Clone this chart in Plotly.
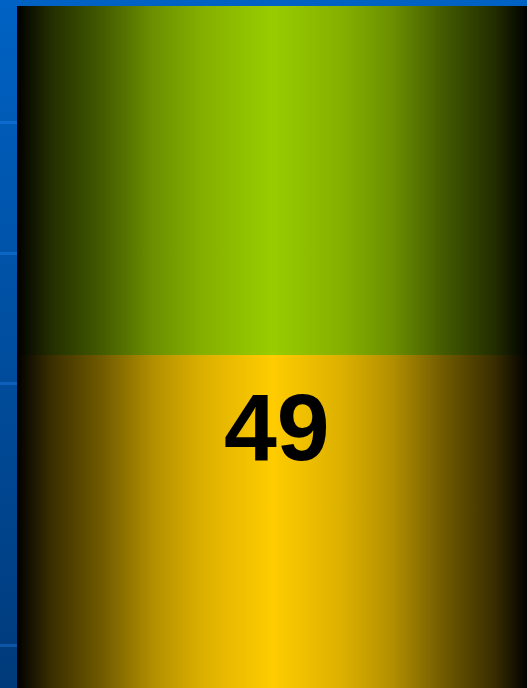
import plotly.graph_objects as go

# ---- data ----
segment_names = ["Yellow", "Green"]
segment_values = [49, 26.7]
segment_colors = ["#FFCC00", "#99CC00"]
segment_labels = ["49", ""]
grid_values = [26.8, 46.8, 56.8, 66.8]

bar_width = 0.8
x_range = [-0.42661, 0.39844]
y_range = [23.52, 76.16]

# shading profile (fraction of full colour) across the bar, left -> centre
shade_pos = [0.0, 0.065, 0.165, 0.265, 0.36, 0.46, 0.5]
shade_amt = [0.0, 0.22, 0.44, 0.70, 0.86, 0.96, 1.0]


def hex_rgb(h):
    h = h.lstrip("#")
    return tuple(int(h[i:i + 2], 16) for i in (0, 2, 4))


def shaded_scale(hex_color):
    r, g, b = hex_rgb(hex_color)
    left = [[p, f"rgb({round(r*a)},{round(g*a)},{round(b*a)})"] for p, a in zip(shade_pos, shade_amt)]
    right = [[1 - p, c] for p, c in reversed(left[:-1])]
    return left + right


fig = go.Figure()

# background gradient (own subplot, drawn first)
fig.add_trace(go.Scatter(
    x=[0, 1, 1, 0, 0], y=[0, 0, 1, 1, 0], mode="lines", fill="toself",
    line=dict(width=0), hoverinfo="skip", showlegend=False,
    fillgradient=dict(type="vertical", start=0, stop=1,
                      colorscale=[[0, "#003a7a"], [1, "#0062c4"]]),
    xaxis="x", yaxis="y"))

# stacked bar segments with horizontal shading
base = 0
for name, val, col in zip(segment_names, segment_values, segment_colors):
    x0, x1 = -bar_width / 2, bar_width / 2
    fig.add_trace(go.Scatter(
        x=[x0, x1, x1, x0, x0], y=[base, base, base + val, base + val, base],
        mode="lines", fill="toself", line=dict(width=0), name=name,
        hoverinfo="name", showlegend=False,
        fillgradient=dict(type="horizontal", start=x0, stop=x1,
                          colorscale=shaded_scale(col)),
        xaxis="x2", yaxis="y2"))
    base += val

# labels
base = 0
for val, lab in zip(segment_values, segment_labels):
    if lab:
        fig.add_annotation(x=0, y=base + val, xref="x2", yref="y2", text=f"<b>{lab}</b>",
                           showarrow=False, yanchor="top", xanchor="center",
                           xshift=4, yshift=-17,
                           font=dict(family="Liberation Sans, Arial", size=95, color="#000000"))
    base += val

fig.update_layout(
    width=527, height=688,
    margin=dict(l=0, r=0, t=0, b=0),
    paper_bgcolor="#004a98", plot_bgcolor="rgba(0,0,0,0)",
    showlegend=False,
    xaxis=dict(range=[0, 1], visible=False, domain=[0, 1], fixedrange=True),
    yaxis=dict(range=[0, 1], visible=False, domain=[0, 1], fixedrange=True),
    xaxis2=dict(range=x_range, domain=[0, 1], anchor="y2", showgrid=False,
                zeroline=False, showticklabels=False, ticks=""),
    yaxis2=dict(range=y_range, domain=[0, 1], anchor="x2", tickvals=grid_values,
                showgrid=True, gridcolor="rgba(40,140,255,0.32)", gridwidth=3,
                zeroline=False, showticklabels=False, ticks=""),
)

fig.write_html(
    "out.html",
    config={"displayModeBar": False},
    post_script="document.body.style.margin='0';document.body.style.overflow='hidden';",
)
